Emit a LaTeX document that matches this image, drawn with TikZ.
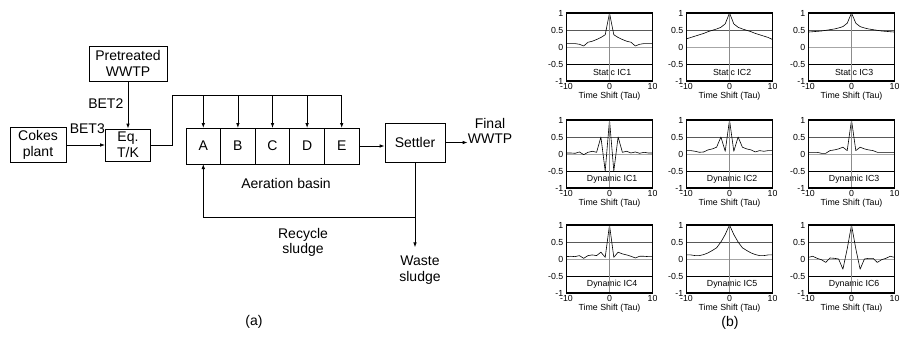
\documentclass[tikz,border=0pt]{standalone}
\usepackage{fontspec}
\setmainfont{Liberation Sans}
\usetikzlibrary{arrows.meta,positioning}

\begin{document}
\begin{tikzpicture}[
  x=1pt, y=-1pt,
  font=\fontsize{14}{15.5}\selectfont,
  unitbox/.style={draw, line width=0.8pt, align=center, inner sep=0pt},
  cell/.style={draw, line width=0.8pt, outer sep=0pt, inner sep=0pt,
    minimum width=34.6pt, minimum height=36pt},
  lbl/.style={align=center, inner sep=0pt},
  flow/.style={line width=0.8pt},
  arrow/.style={-{Latex[length=5pt,width=3.6pt]}, line width=0.8pt},
  tick/.style={font=\fontsize{8.8}{10}\selectfont, inner sep=0pt},
  gridhalf/.style={line width=0.8pt, draw=black!65},
  gridzero/.style={line width=0.8pt, draw=black!35},
  gridneg/.style={line width=0.8pt, draw=black},
  tauaxis/.style={line width=0.9pt, draw=black!45},
  frame/.style={line width=1.5pt},
  curve/.style={line width=0.6pt, line join=round}
]
\useasboundingbox (0,0) rectangle (901,345);

% (a) plant layout
\node[unitbox, minimum width=78pt, minimum height=35pt] (pre) at (128,63.5) {Pretreated\\WWTP};
\node[unitbox, minimum width=56pt, minimum height=35pt] (cokes) at (38,145) {Cokes\\plant};
\node[unitbox, minimum width=45pt, minimum height=32pt] (eq) at (128,145) {Eq.\\T/K};
\node[cell] (A) at (203.3,146) {A};
\node[cell, right=0pt of A] (B) {B};
\node[cell, right=0pt of B] (C) {C};
\node[cell, right=0pt of C] (D) {D};
\node[cell, right=0pt of D] (E) {E};
\node[unitbox, minimum width=60pt, minimum height=39pt] (settler) at (415,142.5) {Settler};
\node[lbl] (final) at (490,131) {Final\\WWTP};
\node[lbl] (basin) at (286,183) {Aeration basin};
\node[lbl] (recycle) at (303,242.5) {Recycle\\sludge};
\node[lbl] (waste) at (420,270) {Waste\\sludge};
\node[lbl, anchor=east] (bet2) at (123.5,104) {BET2};
\node[lbl, anchor=east] (bet3) at (105,129) {BET3};
\node[lbl] (capa) at (254,322) {(a)};

\draw[arrow] (pre) -- (eq);
\draw[arrow] (cokes) -- (eq);
\coordinate (split) at (172,95);
\draw[flow] (eq.east) -| (split) -- (split -| E);
\foreach \c in {A,B,C,D,E}
  \draw[arrow] (split -| \c) -- (\c.north);
\draw[arrow] (E.east) -- (E.east -| settler.west);
\draw[arrow] (settler.east) -- (settler.east -| final.west);
\path (settler.south) ++(0,55) coordinate (junc);
\path (junc) ++(0,30) coordinate (wasteend);
\draw[arrow] (settler.south) -- (junc) -| (A.south);
\draw[arrow] (junc) -- (wasteend);

% (b) correlation panels
\foreach \cx/\cy/\ictxt/\vals [count=\n] in {
  609.5/47/Static IC1/{.1,.1,.1,.08,.03,.14,.17,.22,.28,.36,1,.36,.28,.22,.17,.14,.03,.08,.1,.1,.1},
  729.5/47/Static IC2/{.24,.28,.32,.36,.4,.45,.49,.53,.58,.68,1,.68,.58,.53,.49,.45,.4,.36,.32,.28,.22},
  851.5/47/Static IC3/{.44,.45,.46,.47,.49,.51,.53,.56,.6,.7,1,.7,.6,.56,.53,.51,.49,.47,.46,.45,.44},
  609.5/154/Dynamic IC1/{.03,.03,.02,.06,-.02,.05,.08,.05,.5,-.5,1,-.5,.5,.05,.08,.03,.06,.02,.05,.03,.03},
  729.5/154/Dynamic IC2/{.1,.1,.08,.05,.06,.12,.15,.2,.5,.08,1,.08,.5,.2,.15,.12,.06,.1,.08,.1,.1},
  851.5/154/Dynamic IC3/{.05,.05,.05,.02,.02,.1,.12,.15,.2,.1,1,.1,.2,.15,.12,.1,.05,.05,.05,.05,.05},
  609.5/259/Dynamic IC4/{.07,.08,.07,.1,.02,.1,.12,.1,.2,.05,1,.05,.2,.15,.12,.08,.03,.08,.08,.07,.07},
  729.5/259/Dynamic IC5/{.12,.12,.1,.1,.13,.18,.25,.33,.5,.72,1,.72,.5,.33,.25,.18,.13,.1,.1,.12,.12},
  851.5/259/Dynamic IC6/{.05,.08,.02,-.02,-.1,.03,.02,0,-.3,.3,1,.3,-.3,0,.02,.02,-.1,-.02,.02,.08,.05}%
}{
  \begin{scope}[shift={(\cx,\cy)}, x=4.3pt, y=34pt]
    \draw[gridhalf] (-10,0.5) -- (10,0.5);
    \draw[gridzero] (-10,0) -- (10,0);
    \draw[gridneg] (-10,-0.5) -- (10,-0.5);
    \node[tick] (p\n-lbl) at (0.6,-0.74) {\ictxt};
    \foreach \v [count=\k from 0] in \vals
      \coordinate (p\n-c\k) at ({\k-10},\v);
    \draw[curve] (p\n-c0) \foreach \k in {1,...,20} {-- (p\n-c\k)};
    \draw[tauaxis] (0,-1) -- (0,1);
    \draw[frame] (-10,-1) rectangle (10,1);
    \foreach \t [count=\j] in {1,0.5,0,-0.5,-1}
      \node[tick, anchor=east] (p\n-y\j) at (-10,\t) [xshift=-3pt] {\t};
    \foreach \t [count=\j] in {-10,0,10}
      \node[tick, anchor=north] (p\n-x\j) at (\t,-1) [yshift=-2pt] {\t};
    \node[tick] (p\n-tau) at (0,-1) [yshift=-15pt] {Time Shift (Tau)};
  \end{scope}
}
\node[lbl] (capb) at (730,323) {(b)};
\end{tikzpicture}
\end{document}
